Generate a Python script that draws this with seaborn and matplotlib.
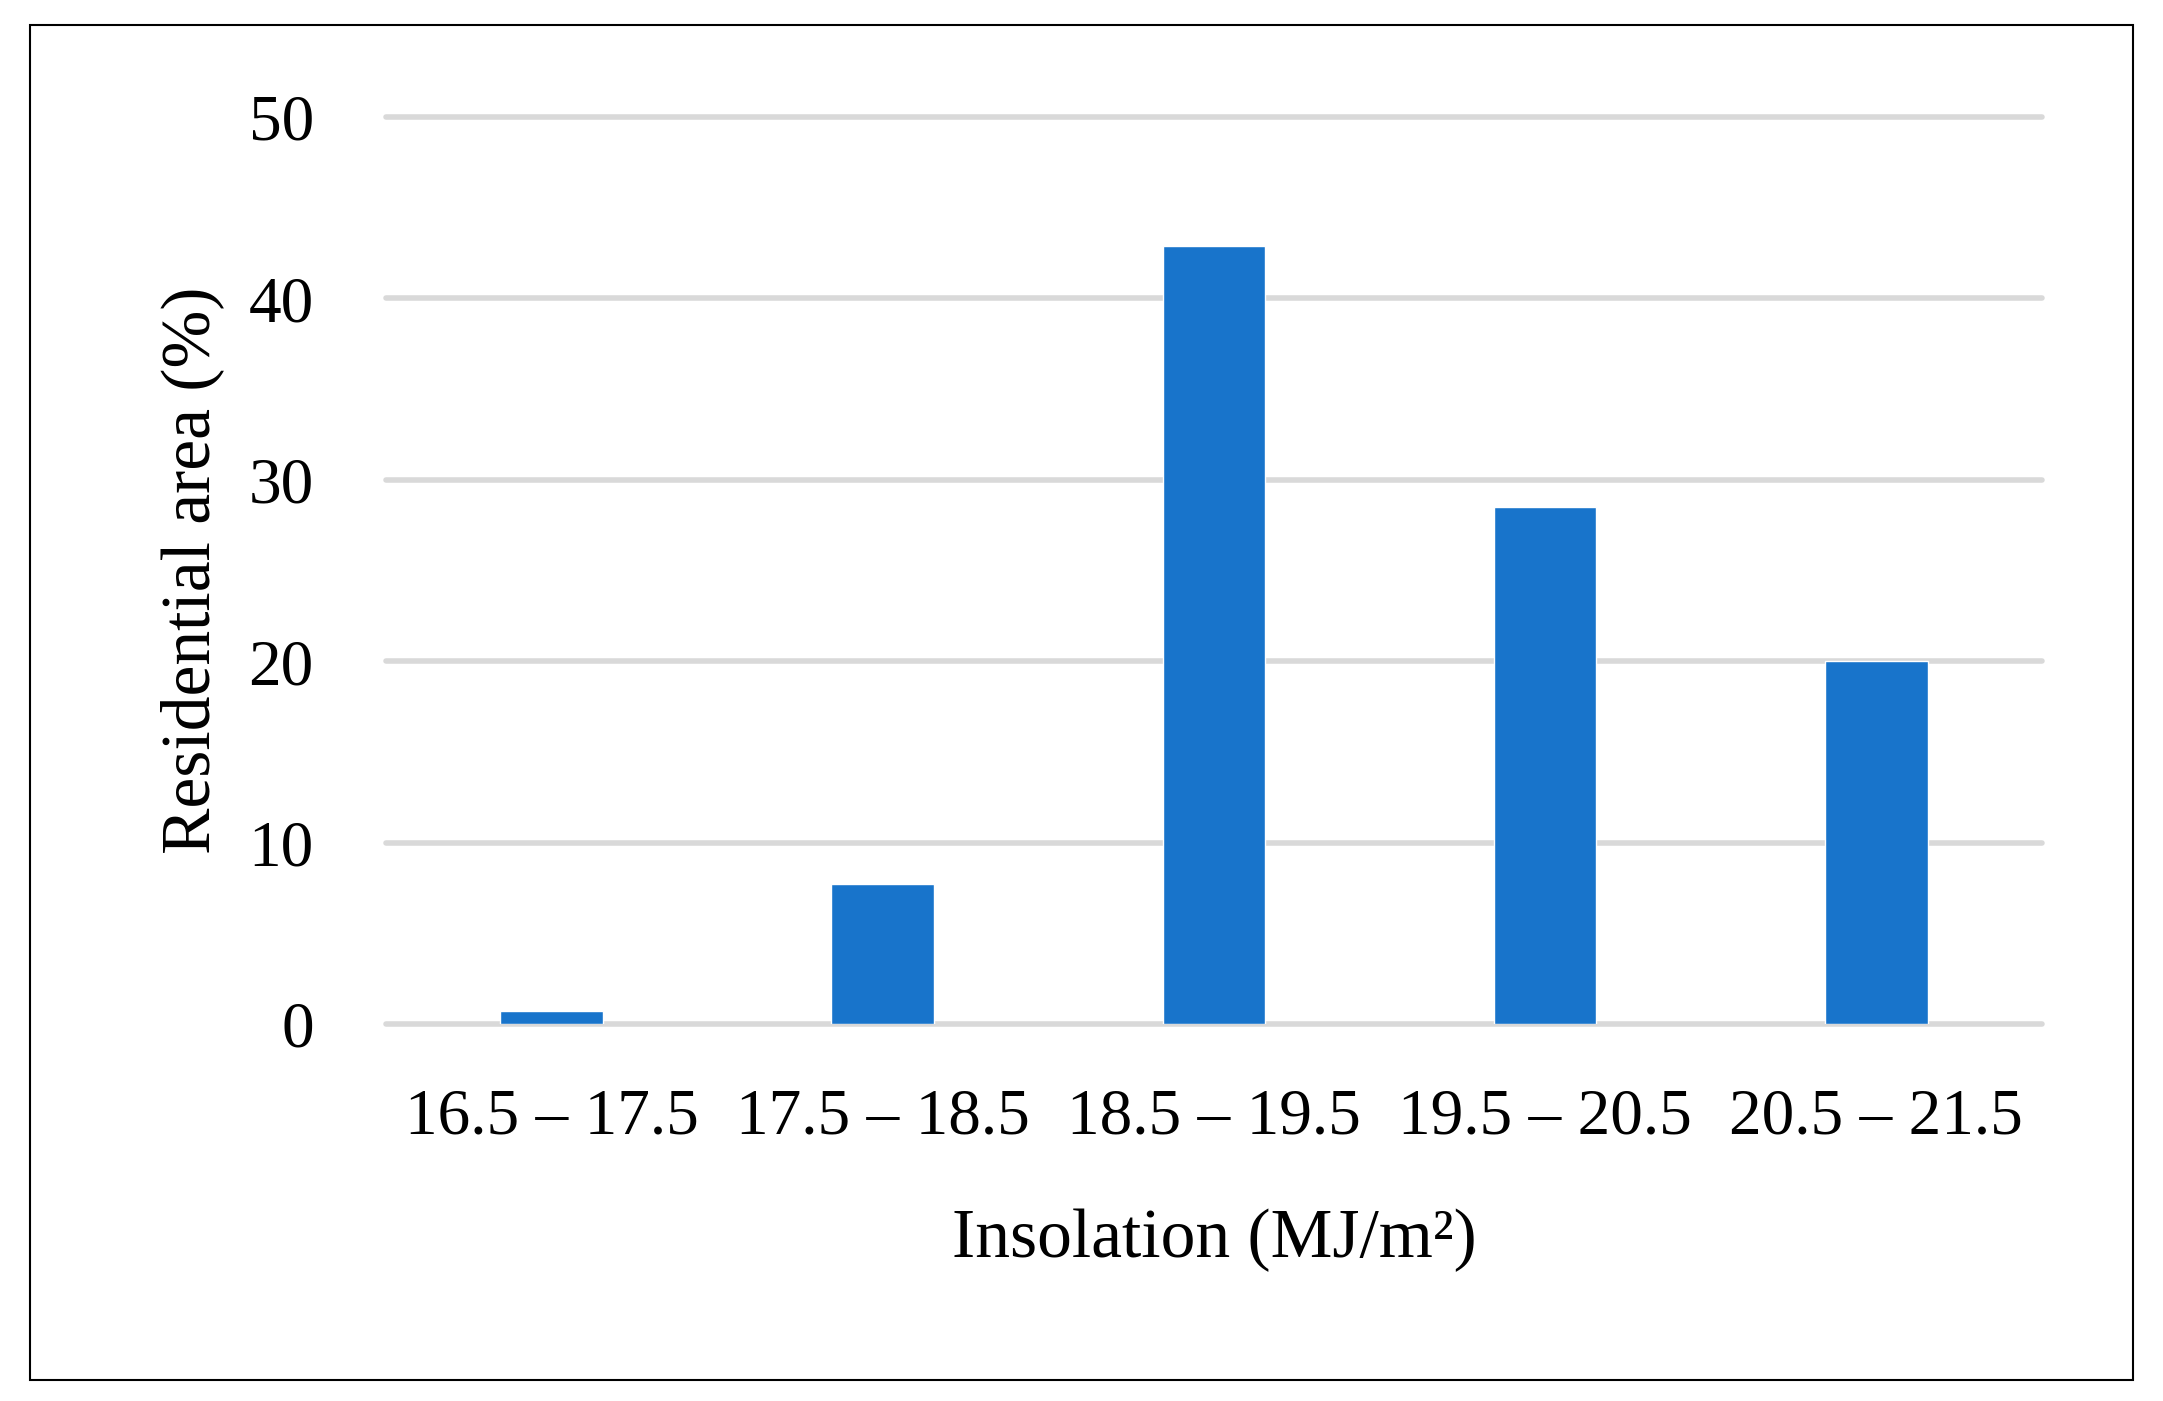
import matplotlib
matplotlib.use("Agg")
import matplotlib.pyplot as plt
import seaborn as sns
import pandas as pd
from matplotlib.patches import Rectangle

categories = ["16.5 – 17.5", "17.5 – 18.5", "18.5 – 19.5", "19.5 – 20.5", "20.5 – 21.5"]
values = [0.7, 7.7, 42.9, 28.5, 20.0]
y_ticks = [0, 10, 20, 30, 40, 50]

sns.set_theme(style="white")
plt.rcParams["font.family"] = ["Liberation Serif", "DejaVu Serif"]

df = pd.DataFrame({"cat": categories, "val": values})

fig = plt.figure(figsize=(21.63, 14.01), dpi=100)
ax = fig.add_axes([0.1785, 0.269, 0.7655, 0.6475])

sns.barplot(data=df, x="cat", y="val", color="#1874CB", saturation=1,
            width=0.31, ax=ax, zorder=3)

ax.set_ylim(0, 50)
ax.set_xlim(-0.5, len(categories) - 0.5)
ax.set_yticks(y_ticks)
ax.set_yticklabels([str(t) for t in y_ticks])
for t in y_ticks:
    ax.axhline(t, color="#D9D9D9", lw=4, zorder=1, clip_on=False)

for s in ax.spines.values():
    s.set_visible(False)
ax.tick_params(axis="both", length=0, labelsize=47, colors="black")
ax.tick_params(axis="y", pad=52)
ax.tick_params(axis="x", pad=46)

ax.set_xlabel("Insolation (MJ/m²)", fontsize=50, labelpad=44, color="black")
ax.set_ylabel("Residential area (%)", fontsize=50, labelpad=18, color="black")

fig.patches.append(Rectangle((0.0139, 0.015), 0.9723, 0.967, transform=fig.transFigure,
                             fill=False, edgecolor="black", linewidth=1.5))

fig.savefig("out.png", dpi=100, facecolor="white")
